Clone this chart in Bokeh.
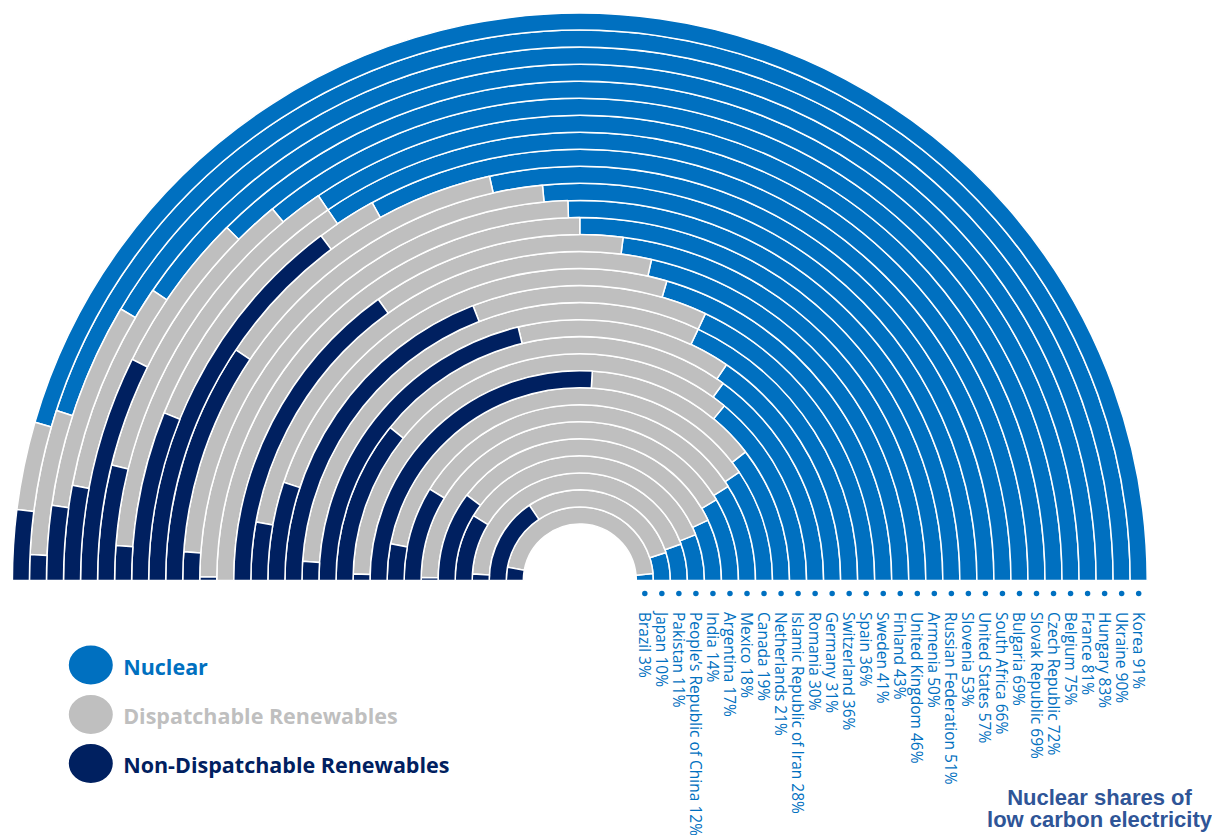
import math
from bokeh.plotting import figure
from bokeh.models import Range1d, ColumnDataSource
from bokeh.core.properties import value
from bokeh.embed import file_html
from bokeh.resources import INLINE

# ---- data (inner ring -> outer ring) ----
countries = ["Brazil", "Japan", "Pakistan", "People\u2019s Republic of China", "India",
             "Argentina", "Mexico", "Canada", "Netherlands", "Islamic Republic of Iran",
             "Romania", "Germany", "Switzerland", "Spain", "Sweden", "Finland",
             "United Kingdom", "Armenia", "Russian Federation", "Slovenia",
             "United States", "South Africa", "Bulgaria", "Slovak Republic",
             "Czech Republic", "Belgium", "France", "Hungary", "Ukraine", "Korea"]
nuclear = [3, 10, 11, 12, 14, 17, 18, 19, 21, 28, 30, 31, 36, 36, 41, 43, 46, 50, 51, 53,
           57, 66, 69, 69, 72, 75, 81, 83, 90, 91]
dispatchable = [91.2, 58.8, 87.1, 70.6, 65.4, 82.4, 64.6, 74.9, 27.1, 71.1, 48.4, 26.6,
                61.8, 25.8, 48.8, 51.3, 23.8, 50.0, 48.7, 44.7, 24.2, 4.5, 18.8, 28.6,
                20.3, 10.4, 13.1, 12.5, 8.5, 5.0]
non_dispatchable = [5.8, 31.2, 1.9, 17.4, 20.6, 0.6, 17.4, 6.1, 51.9, 0.9, 21.6, 42.4,
                    2.2, 38.2, 10.2, 5.7, 30.2, 0.0, 0.3, 2.3, 18.8, 29.5, 12.2, 2.4,
                    7.7, 14.6, 5.9, 4.5, 1.5, 4.0]

legend_labels = ["Nuclear", "Dispatchable Renewables", "Non-Dispatchable Renewables"]
title_lines = ["Nuclear shares of", "low carbon electricity"]

# ---- styling / layout ----
C_NUC = "#0070C0"
C_DISP = "#BFBFBF"
C_NON = "#002060"
C_TITLE = "#2F5597"

W, HF = 1212, 835
H = 837
CX, CY = 579.3, H - 580
R0, STEP = 56.5, 17.03

p = figure(width=W, height=HF, x_range=Range1d(0, W), y_range=Range1d(H - HF, H),
           output_backend="svg", toolbar_location=None, min_border=0,
           x_axis_type=None, y_axis_type=None)
p.grid.visible = False
p.outline_line_color = None
p.background_fill_color = "white"
p.border_fill_color = "white"

n = len(countries)
inner = [R0 + STEP * i for i in range(n)]
outer = [r + STEP for r in inner]
mid = [r + STEP / 2 for r in inner]

def ang(v):
    return v / 100.0 * math.pi

cum0 = [0.0] * n
cum1 = list(nuclear)
cum2 = [nu + d for nu, d in zip(nuclear, dispatchable)]
cum3 = [nu + d + nd for nu, d, nd in zip(nuclear, dispatchable, non_dispatchable)]

for lo, hi, col in ((cum0, cum1, C_NUC), (cum1, cum2, C_DISP), (cum2, cum3, C_NON)):
    idx = [i for i in range(n) if hi[i] - lo[i] > 0]
    src = ColumnDataSource(dict(
        x=[CX] * len(idx), y=[CY] * len(idx),
        ri=[inner[i] for i in idx], ro=[outer[i] for i in idx],
        s=[ang(lo[i]) for i in idx], e=[ang(hi[i]) for i in idx],
    ))
    p.annular_wedge(x="x", y="y", inner_radius="ri", outer_radius="ro",
                    start_angle="s", end_angle="e", source=src,
                    fill_color=col, line_color="white", line_width=1.5)

# dots and labels under the right half
lab_src = ColumnDataSource(dict(
    x=[CX + m for m in mid],
    yd=[H - 593] * n,
    yt=[H - 611.5] * n,
    text=[f"{c} {v}%" for c, v in zip(countries, nuclear)],
))
p.scatter(x="x", y="yd", source=lab_src, size=5.5, color=C_NUC, line_color=None)
p.text(x="x", y="yt", text="text", source=lab_src, angle=-math.pi / 2,
       text_align="left", text_baseline="middle", text_color=C_NUC,
       text_font=value("Open Sans"), text_font_size="15.5px")

# legend
leg_y = [H - 664.5, H - 714, H - 763]
leg_cols = [C_NUC, C_DISP, C_NON]
p.ellipse(x=[90.3] * 3, y=leg_y, width=44, height=39, fill_color=leg_cols, line_color=None)
p.text(x=[122.7] * 3, y=[v - 1 for v in leg_y], text=legend_labels, text_color=leg_cols,
       text_font=value("Open Sans"), text_font_style="bold", text_font_size="21.5px",
       text_align="left", text_baseline="middle")

# title
p.text(x=[1099, 1099], y=[H - 796.5, H - 818.5], text=title_lines, text_color=C_TITLE,
       text_font=value("Liberation Sans"), text_font_style="bold", text_font_size="22px",
       text_align="center", text_baseline="middle")

open("out.html", "w").write(file_html(p, INLINE))
